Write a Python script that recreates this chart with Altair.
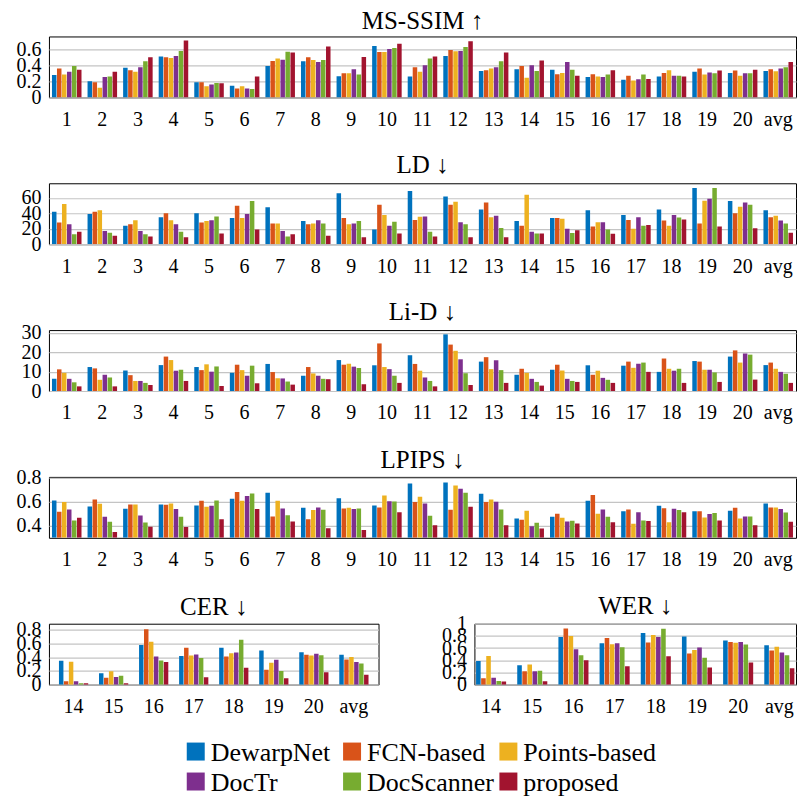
import altair as alt
import pandas as pd

FONT = "Liberation Serif"

series = ["DewarpNet", "FCN-based", "Points-based", "DocTr", "DocScanner", "proposed"]
colors = ["#0072BD", "#D95319", "#EDB120", "#7E2F8E", "#77AC30", "#A2142F"]

groups_full = [str(i) for i in range(1, 21)] + ["avg"]
groups_ocr = [str(i) for i in range(14, 21)] + ["avg"]

# ---------------- MS-SSIM (higher is better) ----------------
ms_dewarpnet = [0.28, 0.20, 0.37, 0.51, 0.19, 0.145, 0.39, 0.45, 0.265, 0.64, 0.26, 0.515, 0.33, 0.35, 0.345, 0.255, 0.22, 0.26, 0.32, 0.305, 0.33]
ms_fcn = [0.36, 0.19, 0.34, 0.50, 0.19, 0.11, 0.455, 0.50, 0.30, 0.565, 0.375, 0.59, 0.34, 0.39, 0.29, 0.29, 0.27, 0.305, 0.36, 0.335, 0.35]
ms_points = [0.285, 0.12, 0.32, 0.49, 0.14, 0.14, 0.485, 0.465, 0.30, 0.565, 0.32, 0.575, 0.36, 0.245, 0.305, 0.26, 0.21, 0.34, 0.285, 0.27, 0.325]
ms_doctr = [0.32, 0.255, 0.375, 0.515, 0.16, 0.11, 0.47, 0.44, 0.35, 0.605, 0.40, 0.58, 0.375, 0.40, 0.44, 0.255, 0.225, 0.27, 0.31, 0.30, 0.36]
ms_docscanner = [0.39, 0.26, 0.45, 0.58, 0.18, 0.105, 0.57, 0.465, 0.285, 0.615, 0.485, 0.63, 0.45, 0.33, 0.345, 0.285, 0.285, 0.27, 0.30, 0.30, 0.375]
ms_proposed = [0.345, 0.32, 0.50, 0.71, 0.175, 0.26, 0.56, 0.635, 0.505, 0.67, 0.51, 0.70, 0.56, 0.46, 0.27, 0.34, 0.23, 0.26, 0.335, 0.345, 0.44]

# ---------------- LD ----------------
ld_dewarpnet = [42, 39, 24, 35, 40, 34, 48, 30, 66, 19, 69, 62, 45, 30, 34, 44, 38, 45, 73, 56, 44]
ld_fcn = [28, 42, 26, 40, 28, 50, 27, 26, 34, 51, 31.5, 51, 54, 24, 34, 23, 31.5, 30.7, 27, 40, 35]
ld_points = [52, 44, 31, 31, 30, 34, 27, 27, 26, 38, 35.5, 55, 35, 64, 33, 28.5, 20, 24, 56.5, 48.6, 37]
ld_doctr = [26, 17, 17, 26, 31, 39, 17, 31, 27, 24, 36, 28.5, 37, 16, 20, 28.5, 35, 38, 59, 54, 30.7]
ld_docscanner = [13, 15, 13, 16, 36, 56, 10, 27, 30, 29, 16, 26, 21, 14, 14.5, 19, 24, 34.6, 73, 51, 27]
ld_proposed = [16, 11, 10, 9, 14, 19, 13, 11, 9, 14, 10, 9, 9, 14, 18, 13.6, 25, 32, 23, 20.6, 15]

# ---------------- Li-D ----------------
lid_dewarpnet = [6.3, 12.4, 10.6, 13.4, 12.4, 9.4, 14.0, 7.9, 16.0, 13.3, 18.5, 29.3, 15.2, 8.4, 11.0, 13.3, 13.1, 9.9, 15.5, 17.8, 13.4]
lid_fcn = [11.2, 11.7, 8.2, 17.8, 10.8, 13.6, 9.8, 12.4, 13.6, 24.6, 14.0, 24.0, 17.5, 11.5, 13.6, 8.4, 15.2, 16.8, 15.2, 21.0, 14.7]
lid_points = [9.4, 5.8, 5.2, 16.0, 13.8, 10.8, 6.6, 9.1, 14.1, 12.4, 10.5, 20.8, 11.3, 9.4, 10.6, 10.5, 12.0, 11.5, 11.0, 14.7, 11.5]
lid_doctr = [6.3, 8.4, 5.2, 10.5, 10.0, 7.9, 6.5, 7.9, 12.6, 11.3, 7.0, 16.4, 15.9, 6.3, 6.3, 6.8, 14.1, 10.5, 11.0, 19.4, 9.9]
lid_docscanner = [4.5, 7.0, 4.2, 11.0, 12.7, 13.1, 4.9, 6.3, 11.9, 7.9, 5.2, 9.2, 10.8, 4.7, 5.2, 5.8, 14.7, 11.5, 9.6, 18.8, 8.9]
lid_proposed = [2.4, 2.4, 3.1, 5.2, 2.6, 4.0, 3.3, 6.1, 3.5, 4.2, 2.4, 3.1, 4.2, 2.8, 4.7, 4.2, 9.9, 4.2, 4.7, 5.9, 4.2]

# ---------------- LPIPS ----------------
lp_dewarpnet = [0.61, 0.56, 0.54, 0.577, 0.568, 0.623, 0.673, 0.55, 0.629, 0.568, 0.75, 0.759, 0.665, 0.46, 0.474, 0.607, 0.52, 0.565, 0.52, 0.524, 0.585]
lp_fcn = [0.516, 0.618, 0.577, 0.574, 0.607, 0.679, 0.477, 0.455, 0.543, 0.552, 0.596, 0.532, 0.596, 0.45, 0.50, 0.654, 0.535, 0.546, 0.52, 0.55, 0.552]
lp_points = [0.596, 0.582, 0.577, 0.585, 0.557, 0.607, 0.607, 0.53, 0.55, 0.651, 0.64, 0.734, 0.618, 0.524, 0.466, 0.50, 0.417, 0.43, 0.469, 0.46, 0.552]
lp_doctr = [0.535, 0.474, 0.486, 0.538, 0.565, 0.646, 0.543, 0.552, 0.538, 0.604, 0.585, 0.706, 0.60, 0.397, 0.436, 0.535, 0.513, 0.54, 0.497, 0.477, 0.538]
lp_docscanner = [0.444, 0.433, 0.428, 0.474, 0.61, 0.668, 0.488, 0.532, 0.543, 0.601, 0.483, 0.673, 0.535, 0.425, 0.441, 0.474, 0.444, 0.53, 0.505, 0.477, 0.51]
lp_proposed = [0.466, 0.348, 0.392, 0.39, 0.455, 0.538, 0.436, 0.38, 0.364, 0.513, 0.405, 0.557, 0.405, 0.378, 0.419, 0.43, 0.439, 0.513, 0.444, 0.405, 0.433]

# ---------------- CER (groups 14..20, avg) ----------------
cer_dewarpnet = [0.35, 0.165, 0.58, 0.42, 0.538, 0.50, 0.475, 0.436]
cer_fcn = [0.05, 0.10, 0.81, 0.54, 0.41, 0.218, 0.436, 0.368]
cer_points = [0.335, 0.194, 0.625, 0.427, 0.46, 0.32, 0.427, 0.402]
cer_doctr = [0.05, 0.11, 0.41, 0.44, 0.47, 0.364, 0.45, 0.33]
cer_docscanner = [0.02, 0.13, 0.354, 0.388, 0.655, 0.20, 0.43, 0.31]
cer_proposed = [0.02, 0.02, 0.33, 0.107, 0.247, 0.092, 0.18, 0.145]

# ---------------- WER (groups 14..20, avg) ----------------
wer_dewarpnet = [0.39, 0.32, 0.78, 0.68, 0.846, 0.79, 0.725, 0.648]
wer_fcn = [0.104, 0.22, 0.923, 0.764, 0.69, 0.51, 0.70, 0.56]
wer_points = [0.47, 0.33, 0.80, 0.665, 0.813, 0.57, 0.687, 0.62]
wer_doctr = [0.115, 0.22, 0.582, 0.68, 0.78, 0.61, 0.70, 0.527]
wer_docscanner = [0.06, 0.23, 0.483, 0.615, 0.918, 0.44, 0.66, 0.483]
wer_proposed = [0.05, 0.055, 0.40, 0.30, 0.467, 0.28, 0.363, 0.27]


def table(groups, cols):
    rows = []
    for s, vals in zip(series, cols):
        for g, v in zip(groups, vals):
            rows.append({"group": g, "method": s, "value": v})
    return pd.DataFrame(rows)


LABEL_EXPR = "datum.value == 0 ? '0' : (datum.value == 1 ? '1' : format(datum.value, '.1f'))"
color_scale = alt.Scale(domain=series, range=colors)


def panel(title, groups, cols, domain, ticks, width, height, pi, po, decimal, toff, base=None):
    df = table(groups, cols)
    yaxis = alt.Axis(values=ticks, title=None, grid=True, ticks=False, domain=False,
                     labelPadding=8, labelOverlap=False, labelFlush=False,
                     labelExpr=LABEL_EXPR if decimal else "datum.label")
    enc = dict(
        x=alt.X("group:N", sort=groups, title=None,
                scale=alt.Scale(paddingInner=pi, paddingOuter=po),
                axis=alt.Axis(labelAngle=0, ticks=False, domain=False, labelPadding=12,
                              labelOverlap=False)),
        xOffset=alt.XOffset("method:N", sort=series, scale=alt.Scale(paddingInner=0.1)),
        y=alt.Y("value:Q", scale=alt.Scale(domain=domain, nice=False, zero=False), axis=yaxis),
        color=alt.Color("method:N", sort=series, scale=color_scale, legend=None),
    )
    if base is not None:
        enc["y2"] = alt.datum(base)
    return alt.Chart(df).mark_bar(clip=True).encode(**enc).properties(
        width=width, height=height,
        title=alt.TitleParams(title, anchor="middle", font=FONT, fontSize=25,
                              fontWeight="normal", color="black", offset=toff),
    )


W, H = 748, 61
ms = panel("MS-SSIM ↑", groups_full,
           [ms_dewarpnet, ms_fcn, ms_points, ms_doctr, ms_docscanner, ms_proposed],
           [0, 0.76], [0, 0.2, 0.4, 0.6], W, H, 0.17, 0.085, True, 2)
ld = panel("LD ↓", groups_full,
           [ld_dewarpnet, ld_fcn, ld_points, ld_doctr, ld_docscanner, ld_proposed],
           [0, 79], [0, 20, 40, 60], W, H, 0.17, 0.085, False, 5)
lid = panel("Li-D ↓", groups_full,
            [lid_dewarpnet, lid_fcn, lid_points, lid_doctr, lid_docscanner, lid_proposed],
            [0, 31.5], [0, 10, 20, 30], W, H, 0.17, 0.085, False, -2)
lp = panel("LPIPS ↓", groups_full,
           [lp_dewarpnet, lp_fcn, lp_points, lp_doctr, lp_docscanner, lp_proposed],
           [0.3, 0.805], [0.4, 0.6, 0.8], W, H, 0.17, 0.085, True, -5, base=0.3)
cer = panel("CER ↓", groups_ocr,
            [cer_dewarpnet, cer_fcn, cer_points, cer_doctr, cer_docscanner, cer_proposed],
            [0, 0.89], [0, 0.2, 0.4, 0.6, 0.8], 330, H, 0.27, 0.25, True, 0)
wer = panel("WER ↓", groups_ocr,
            [wer_dewarpnet, wer_fcn, wer_points, wer_doctr, wer_docscanner, wer_proposed],
            [0, 1], [0, 0.2, 0.4, 0.6, 0.8, 1], 322, H, 0.27, 0.04, True, -5)

bottom = alt.hconcat(cer, wer, spacing=96, bounds="flush").resolve_scale(
    x="independent", y="independent", xOffset="independent")

# ---------------- legend (3 columns x 2 rows, built from the series list) ----------------
legend_df = pd.DataFrame({
    "method": series,
    "col": [i % 3 for i in range(len(series))],
    "row": [i // 3 for i in range(len(series))],
})
LEG_SHIFT = 42
leg_base = alt.Chart(legend_df).encode(
    x=alt.X("col:O", scale=alt.Scale(type="point", padding=0.939), axis=None),
    y=alt.Y("row:O", scale=alt.Scale(type="point", padding=0), axis=None),
)
leg_sq = leg_base.mark_square(size=324, opacity=1, yOffset=LEG_SHIFT).encode(
    color=alt.Color("method:N", scale=color_scale, legend=None)
)
leg_tx = leg_base.mark_text(align="left", baseline="middle", dx=15, yOffset=LEG_SHIFT, dy=1,
                            font=FONT, fontSize=26, color="black").encode(text="method:N")
leg = alt.layer(leg_sq, leg_tx).properties(
    width=607, height=30, view=alt.ViewBackground(stroke=None)
)

chart = alt.vconcat(ms, ld, lid, lp, bottom, leg, spacing=86, bounds="flush").resolve_scale(
    x="independent", y="independent", xOffset="independent"
).properties(
    padding={"left": 7, "top": 0, "right": 0, "bottom": 0},
).configure(
    font=FONT, background="white"
).configure_view(
    stroke="black", strokeWidth=1
).configure_axis(
    labelFont=FONT, labelFontSize=20, labelColor="black", gridColor="#c4c4c4", gridWidth=1.2
)

chart.save("out.html", embed_options={"renderer": "svg", "actions": False})
